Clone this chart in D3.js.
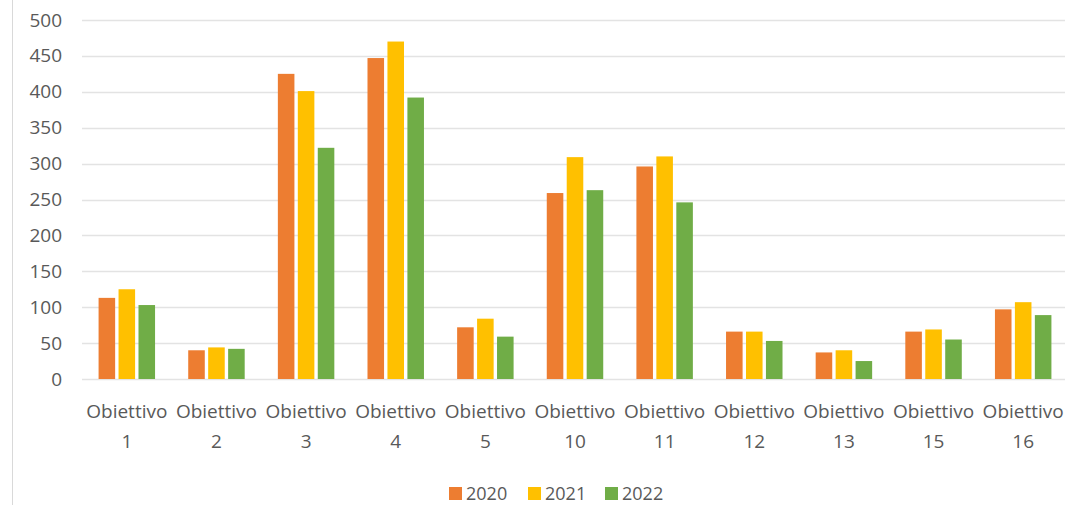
<!DOCTYPE html>
<html>
<head>
<meta charset="utf-8">
<script src="https://cdn.jsdelivr.net/npm/d3@7"></script>
<style>
  body { margin: 0; background: #fff; }
  text { font-family: "Open Sans", sans-serif; fill: #595959; }
</style>
</head>
<body>
<div id="chart"></div>
<script>
// categories and values
var categories = ["Obiettivo 1", "Obiettivo 2", "Obiettivo 3", "Obiettivo 4", "Obiettivo 5",
                  "Obiettivo 10", "Obiettivo 11", "Obiettivo 12", "Obiettivo 13", "Obiettivo 15", "Obiettivo 16"];
var years = ["2020", "2021", "2022"];
var values2020 = [113, 40, 425, 447, 72, 259, 296, 66, 37, 66, 97];
var values2021 = [125, 44, 401, 470, 84, 309, 310, 66, 40, 69, 107];
var values2022 = [103, 42, 322, 392, 59, 263, 246, 53, 25, 55, 89];
var colors = ["#ED7D31", "#FFC000", "#70AD47"];
var yTicks = [0, 50, 100, 150, 200, 250, 300, 350, 400, 450, 500];

function drawChart() {
  var series = [values2020, values2021, values2022];

  var w = 1068, h = 505;
  var plotLeft = 82, plotRight = 1068, plotTop = 20, plotBottom = 379;

  var svg = d3.select("#chart").append("svg")
    .attr("width", w)
    .attr("height", h);

  // frame line on the left
  svg.append("line")
    .attr("x1", 12.5).attr("x2", 12.5)
    .attr("y1", 0).attr("y2", h)
    .attr("stroke", "#d9d9d9");

  var xScale = d3.scaleBand()
    .domain(categories)
    .range([plotLeft, plotRight])
    .paddingInner(0.37)
    .paddingOuter(0.185);

  var xInner = d3.scaleBand()
    .domain(years)
    .range([0, xScale.bandwidth()])
    .paddingInner(0.17);

  var yScale = d3.scaleLinear()
    .domain([0, 500])
    .range([plotBottom, plotTop]);

  // gridlines
  svg.append("g")
    .selectAll("line")
    .data(yTicks)
    .enter()
    .append("line")
    .attr("x1", plotLeft)
    .attr("x2", plotRight - 3)
    .attr("y1", function(d) { return Math.round(yScale(d)) + 0.5; })
    .attr("y2", function(d) { return Math.round(yScale(d)) + 0.5; })
    .attr("stroke", "#e3e3e3")
    .attr("stroke-width", 1.5);

  // y labels
  var yAxis = d3.axisLeft(yScale).tickValues(yTicks).tickSize(0).tickPadding(0);
  var gy = svg.append("g")
    .attr("transform", "translate(62,0)")
    .call(yAxis);
  gy.select(".domain").remove();
  gy.selectAll("text")
    .attr("font-size", "19px")
    .attr("font-family", null)
    .attr("fill", null);

  // bars
  var groups = svg.append("g")
    .selectAll("g")
    .data(categories)
    .enter()
    .append("g")
    .attr("transform", function(d) { return "translate(" + xScale(d) + ",0)"; });

  groups.selectAll("rect")
    .data(function(d, i) {
      return years.map(function(y, j) { return { year: y, value: series[j][i], c: colors[j] }; });
    })
    .enter()
    .append("rect")
    .attr("x", function(d) { return xInner(d.year); })
    .attr("y", function(d) { return yScale(d.value); })
    .attr("width", xInner.bandwidth())
    .attr("height", function(d) { return plotBottom - yScale(d.value); })
    .attr("fill", function(d) { return d.c; });

  // x labels, two lines
  var xLabels = svg.append("g")
    .selectAll("text")
    .data(categories)
    .enter()
    .append("text")
    .attr("text-anchor", "middle")
    .attr("font-size", "19px");

  xLabels.append("tspan")
    .attr("x", function(d) { return xScale(d) + xScale.bandwidth() / 2; })
    .attr("y", 418)
    .text(function(d) { return d.split(" ")[0]; });
  xLabels.append("tspan")
    .attr("x", function(d) { return xScale(d) + xScale.bandwidth() / 2; })
    .attr("y", 448)
    .text(function(d) { return d.split(" ")[1]; });

  // legend
  var legendX = [449, 528, 605];
  var legend = svg.append("g")
    .selectAll("g")
    .data(years)
    .enter()
    .append("g")
    .attr("transform", function(d, i) { return "translate(" + legendX[i] + ",487)"; });

  legend.append("rect")
    .attr("width", 13)
    .attr("height", 13)
    .attr("fill", function(d, i) { return colors[i]; });

  legend.append("text")
    .attr("x", 17)
    .attr("y", 13)
    .attr("font-size", "18px")
    .text(function(d) { return d; });
}

drawChart();
</script>
</body>
</html>
